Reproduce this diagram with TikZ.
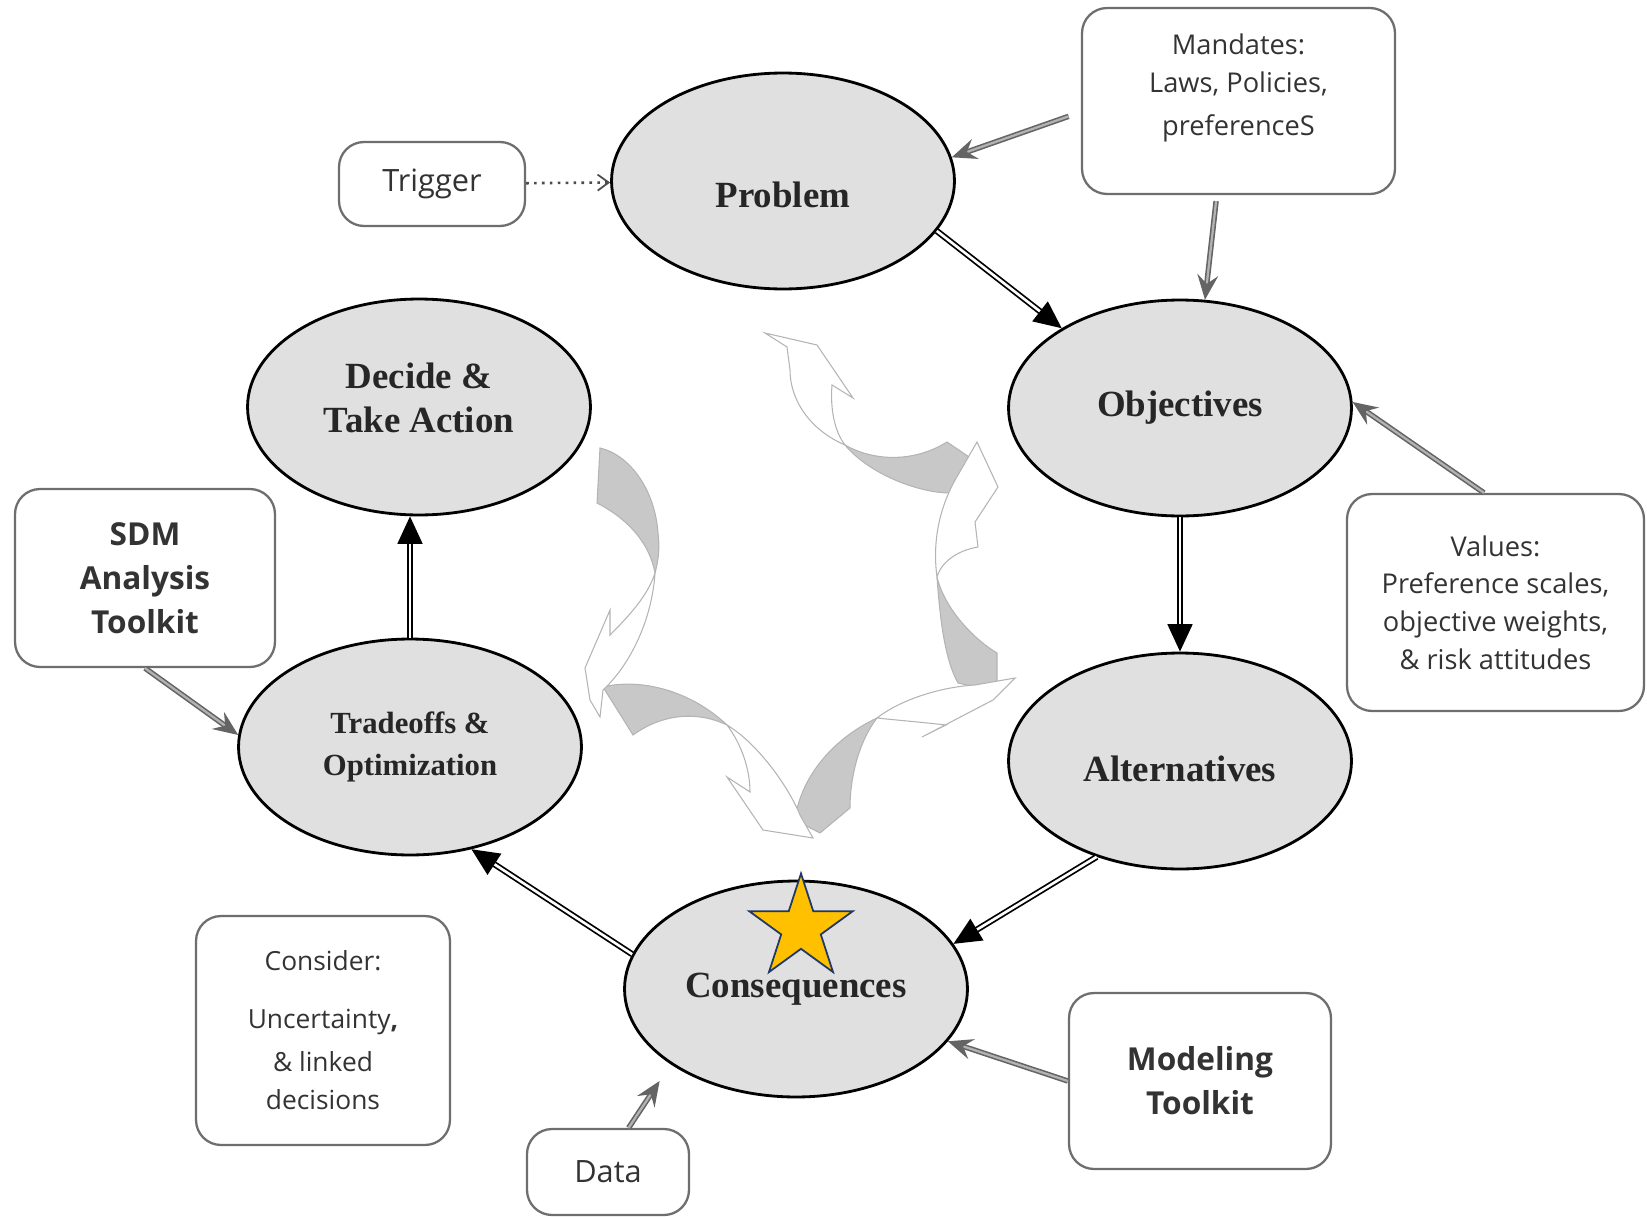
\documentclass[tikz,border=0pt]{standalone}
\usepackage{fontspec}
\setmainfont{Liberation Serif}
\newfontfamily\notefont{Open Sans}
\usetikzlibrary{shapes.geometric,arrows.meta}

\definecolor{stagefill}{HTML}{E0E0E0}
\definecolor{notegray}{HTML}{6E6E6E}
\definecolor{feedgray}{HTML}{646464}
\definecolor{swirlfill}{HTML}{C8C8C8}
\definecolor{swirlline}{HTML}{B4B4B4}
\definecolor{stargold}{HTML}{FFC000}
\definecolor{starnavy}{HTML}{1F3864}

\begin{document}
\begin{tikzpicture}[x=0.02cm,y=-0.02cm,
	stage/.style={ellipse, draw, line width=1.6pt, fill=stagefill, minimum width=6.86cm, minimum height=4.32cm, inner sep=0pt, align=center, text=black!85, font=\bfseries\fontsize{21}{25}\selectfont},
	note/.style={draw=notegray, line width=1.3pt, rounded corners=0.5cm, align=center, inner sep=0pt, text=black!80, font=\notefont\fontsize{15.5}{21.5}\selectfont},
	flow/.style={draw=black, line width=1pt, double=white, double distance=1.5pt, -{Triangle[length=0.55cm,width=0.5cm]}},
	feed/.style={draw=feedgray, line width=0.9pt, double=gray!60, double distance=1.3pt, -{Stealth[length=0.5cm,width=0.42cm,inset=0.18cm]}},
	swirl/.style={draw=swirlline, line width=0.6pt, fill=swirlfill},
	swirlhead/.style={draw=swirlline, line width=0.6pt, fill=white}]
	
	\useasboundingbox (0,0) rectangle (1647,1217);
	
	%CENTRAL SWIRL ARROWS
	\draw[swirl] (845,445) .. controls (875,462) and (915,462) .. (947,442) -- (978,463) -- (950,493) .. controls (920,493) and (870,475) .. (845,445) -- cycle; %top
	\draw[swirlhead] (845,445) .. controls (810,430) and (790,400) .. (790,370) -- (787,347) -- (765,333) -- (817,345) -- (853,398) -- (832,385) .. controls (830,410) and (835,432) .. (845,445) -- cycle;
	\draw[swirl] (937,577) .. controls (940,620) and (945,660) .. (958,683) -- (997,692) -- (997,653) .. controls (975,640) and (945,610) .. (937,577) -- cycle; %right
	\draw[swirlhead] (937,577) .. controls (932,540) and (940,505) .. (958,475) -- (977,442) -- (998,487) -- (975,522) -- (978,547) .. controls (960,550) and (942,560) .. (937,577) -- cycle;
	\draw[swirl] (795,820) .. controls (800,780) and (830,740) .. (877,718) .. controls (860,740) and (850,775) .. (850,808) -- (820,833) -- cycle; %bottom right
	\draw[swirlhead] (877,718) .. controls (900,700) and (940,687) .. (975,685) -- (1015,678) -- (993,700) -- (922,737) -- (946,725) .. controls (920,722) and (895,720) .. (877,718) -- cycle;
	\draw[swirl] (603,687) .. controls (640,678) and (690,690) .. (727,725) .. controls (700,712) and (665,712) .. (633,735) -- cycle; %bottom left
	\draw[swirlhead] (727,725) .. controls (760,745) and (790,790) .. (800,815) -- (813,838) -- (763,830) -- (727,777) -- (750,792) .. controls (750,770) and (742,745) .. (727,725) -- cycle;
	\draw[swirl] (600,448) .. controls (630,455) and (655,490) .. (658,533) .. controls (660,550) and (658,562) .. (655,573) .. controls (650,545) and (630,520) .. (597,503) -- cycle; %left
	\draw[swirlhead] (655,573) .. controls (652,620) and (630,665) .. (603,690) -- (600,717) -- (590,700) -- (585,668) -- (610,610) -- (610,635) .. controls (630,615) and (648,595) .. (655,573) -- cycle;
	
	%STAGES
	\node[stage, text height=1.08cm] (problem) at (783,181) {Problem};
	\node[stage] (objectives) at (1180,408) {Objectives};
	\node[stage, text height=0.82cm] (alternatives) at (1180,761) {Alternatives};
	\node[stage] (consequences) at (796,989) {Consequences};
	\node[stage, font=\bfseries\fontsize{17.5}{24}\selectfont] (tradeoffs) at (410,747) {Tradeoffs \&\\Optimization};
	\node[stage] (decide) at (419,407) {Decide \&\\Take Action\\[-14pt]\mbox{}};
	
	%BOXES
	\node[note, minimum width=3.72cm, minimum height=1.68cm, font=\notefont\fontsize{17.5}{21}\selectfont] (trigger) at (432,184) {Trigger};
	\node[note, minimum width=6.26cm, minimum height=3.72cm] (mandates) at (1238.5,101) {Mandates:\\Laws, Policies,\\[3pt]preferenceS\\[-3pt]\mbox{}};
	\node[note, minimum width=5.94cm, minimum height=4.34cm] (values) at (1495.5,602.5) {Values:\\Preference scales,\\objective weights,\\\& risk attitudes};
	\node[note, minimum width=5.24cm, minimum height=3.52cm, font=\notefont\bfseries\fontsize{18}{25}\selectfont] (modeling) at (1200,1081) {Modeling\\Toolkit};
	\node[note, minimum width=3.24cm, minimum height=1.72cm, font=\notefont\fontsize{17.5}{21}\selectfont] (data) at (608,1172) {Data};
	\node[note, minimum width=5.08cm, minimum height=4.58cm, font=\notefont\fontsize{15}{22}\selectfont] (consider) at (323,1030.5) {Consider:\\[11pt]Uncertainty\textbf{,}\\[2pt]\& linked\\decisions};
	\node[note, minimum width=5.2cm, minimum height=3.56cm, font=\notefont\bfseries\fontsize{18}{25}\selectfont] (sdm) at (145,578) {SDM\\Analysis\\Toolkit};
	
	%MAIN CYCLE
	\draw[flow] (problem.-18) -- (objectives.146);
	\draw[flow] (objectives) -- (alternatives);
	\draw[flow] (alternatives.-131) -- (consequences.16);
	\draw[flow] (consequences.168) -- (tradeoffs.-59);
	\draw[flow] (tradeoffs) -- (tradeoffs |- decide.south);
	
	%INPUTS
	\draw[line width=1.5pt, dash pattern=on 1.5pt off 3pt, draw=black!70, -{Straight Barb[length=0.22cm,width=0.32cm,line width=1pt]}] (trigger) -- (problem);
	\draw[feed, shorten <=0.26cm] (mandates.184) -- (problem.8);
	\draw[feed, shorten <=0.12cm] (mandates.-103) -- (objectives.77);
	\draw[feed] (values.96) -- (objectives.2);
	\draw[feed] (modeling.west) -- (consequences.-19);
	\draw[feed, shorten >=0.4cm] (data.65) -- (consequences.-149);
	\draw[feed] (sdm.south) -- (tradeoffs.176);
	
	%STAR
	\node[star, star points=5, star point ratio=2.618, minimum size=2.18cm, inner sep=0pt, fill=stargold, draw=starnavy, line width=1pt] (highlight) at (801,928) {};
\end{tikzpicture}
\end{document}
